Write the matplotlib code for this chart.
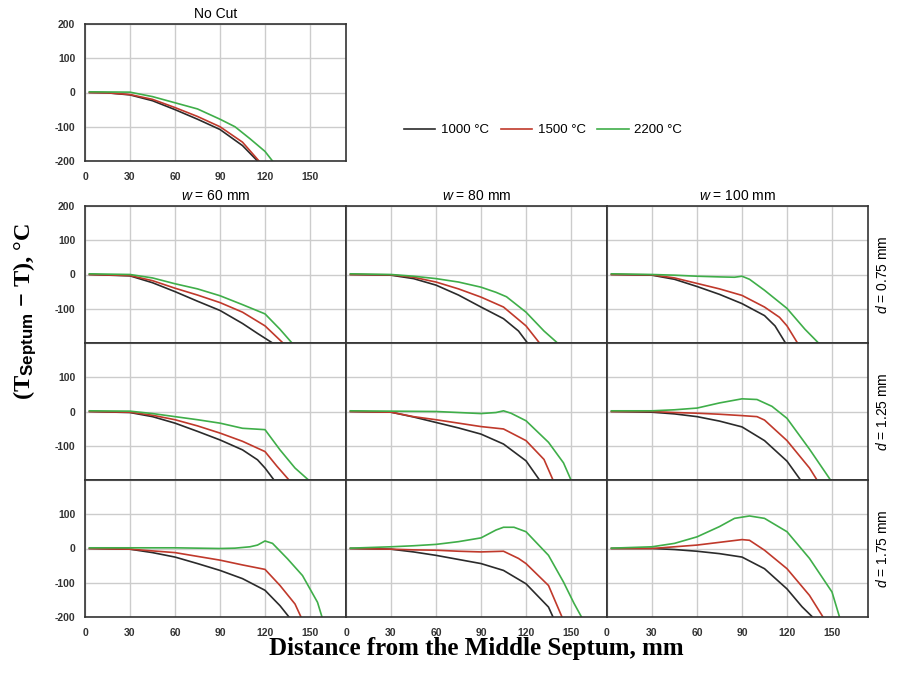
import matplotlib
matplotlib.use("Agg")
import matplotlib.pyplot as plt

plt.rcParams["font.family"] = ["Liberation Sans", "DejaVu Sans"]
plt.rcParams["axes.unicode_minus"] = False
plt.rcParams["mathtext.fontset"] = "custom"
plt.rcParams["mathtext.rm"] = "Liberation Serif:bold"
plt.rcParams["mathtext.bf"] = "Liberation Sans:bold"
plt.rcParams["mathtext.it"] = "Liberation Sans:italic"

# labels
widths = ["60", "80", "100"]
depths = ["0.75", "1.25", "1.75"]
temps = ["1000 °C", "1500 °C", "2200 °C"]
colors = ["#2b2b2b", "#c0392b", "#3fae49"]
x_ticks = [0, 30, 60, 90, 120, 150]
y_ticks = [-200, -100, 0, 100, 200]

# (distance mm, T_septum - T)
nocut_1000 = [(3, 0), (15, -1), (30, -7), (45, -24), (60, -50), (75, -78), (90, -108), (105, -155), (115, -200)]
nocut_1500 = [(3, 0), (15, -1), (30, -6), (45, -20), (60, -44), (75, -70), (90, -100), (105, -145), (116, -200)]
nocut_2200 = [(3, 2), (30, 1), (45, -12), (60, -30), (75, -48), (90, -78), (100, -100), (110, -135), (120, -172), (125, -200)]

w60_d075_1000 = [(3, 0), (30, -4), (45, -24), (60, -50), (75, -78), (90, -105), (105, -143), (115, -172), (125, -200)]
w60_d075_1500 = [(3, 0), (30, -3), (45, -18), (60, -40), (75, -60), (90, -82), (105, -110), (120, -150), (132, -200)]
w60_d075_2200 = [(3, 2), (30, 0), (45, -10), (60, -27), (75, -42), (90, -62), (105, -88), (120, -115), (130, -160), (138, -200)]

w80_d075_1000 = [(3, 0), (30, -2), (45, -12), (60, -31), (75, -60), (90, -95), (105, -129), (115, -165), (121, -200)]
w80_d075_1500 = [(3, 0), (30, -1), (45, -8), (60, -22), (75, -42), (90, -66), (105, -95), (120, -150), (129, -200)]
w80_d075_2200 = [(3, 2), (30, 0), (45, -5), (60, -12), (75, -22), (90, -37), (100, -52), (107, -65), (120, -110), (132, -165), (141, -200)]

w100_d075_1000 = [(3, 0), (30, -2), (45, -14), (60, -35), (75, -58), (90, -85), (105, -120), (112, -150), (119, -200)]
w100_d075_1500 = [(3, 0), (30, -1), (45, -10), (60, -26), (75, -42), (90, -61), (105, -95), (115, -125), (120, -150), (127, -200)]
w100_d075_2200 = [(3, 2), (30, 0), (45, -2), (60, -5), (75, -7), (85, -8), (90, -5), (95, -14), (105, -46), (120, -99), (132, -160), (141, -200)]

w60_d125_1000 = [(3, 0), (30, -3), (45, -15), (60, -34), (75, -58), (90, -83), (105, -112), (115, -141), (120, -165), (126, -200)]
w60_d125_1500 = [(3, 0), (30, -2), (45, -11), (60, -24), (75, -42), (90, -63), (105, -87), (120, -117), (128, -160), (136, -200)]
w60_d125_2200 = [(3, 2), (30, 1), (45, -6), (60, -15), (75, -24), (90, -34), (105, -49), (120, -53), (130, -112), (140, -165), (149, -200)]

w80_d125_1000 = [(3, 0), (30, -2), (45, -16), (60, -32), (75, -48), (90, -66), (105, -95), (120, -144), (129, -200)]
w80_d125_1500 = [(3, 0), (30, -2), (45, -15), (60, -24), (75, -34), (90, -44), (105, -51), (120, -85), (132, -140), (138, -200)]
w80_d125_2200 = [(3, 2), (30, 1), (60, 0), (75, -3), (90, -6), (100, -3), (105, 2), (110, -5), (120, -27), (135, -90), (145, -150), (150, -200)]

w100_d125_1000 = [(3, 0), (30, -2), (45, -7), (60, -15), (75, -28), (90, -45), (105, -85), (120, -145), (129, -200)]
w100_d125_1500 = [(3, 0), (30, 0), (45, -3), (60, -5), (75, -8), (90, -12), (100, -15), (105, -25), (120, -85), (135, -165), (140, -200)]
w100_d125_2200 = [(3, 2), (30, 2), (45, 5), (60, 10), (75, 25), (90, 37), (100, 35), (110, 15), (120, -20), (135, -110), (149, -200)]

w60_d175_1000 = [(3, 0), (30, -2), (45, -12), (60, -25), (75, -44), (90, -64), (105, -88), (120, -122), (130, -167), (136, -200)]
w60_d175_1500 = [(3, 0), (30, -2), (45, -7), (60, -12), (75, -23), (90, -34), (105, -48), (120, -61), (130, -108), (140, -162), (144, -200)]
w60_d175_2200 = [(3, 2), (30, 2), (60, 2), (75, 1), (90, 0), (100, 1), (110, 5), (115, 10), (120, 22), (125, 15), (135, -30), (145, -79), (155, -157), (158, -200)]

w80_d175_1000 = [(3, 0), (30, -2), (45, -10), (60, -20), (75, -32), (90, -44), (105, -64), (120, -103), (135, -171), (138, -200)]
w80_d175_1500 = [(3, 0), (30, -2), (45, -4), (60, -5), (75, -8), (90, -10), (105, -8), (115, -29), (120, -44), (135, -108), (144, -200)]
w80_d175_2200 = [(3, 1), (30, 5), (45, 8), (60, 12), (75, 20), (90, 31), (100, 54), (105, 62), (112, 62), (120, 49), (135, -20), (145, -98), (152, -160), (157, -200)]

w100_d175_1000 = [(3, 0), (30, 0), (45, -3), (60, -8), (75, -15), (90, -25), (105, -59), (120, -118), (130, -170), (137, -200)]
w100_d175_1500 = [(3, 0), (30, 0), (45, 5), (60, 10), (75, 18), (90, 26), (95, 24), (105, -5), (120, -59), (135, -137), (144, -200)]
w100_d175_2200 = [(3, 1), (30, 5), (45, 15), (60, 34), (75, 64), (85, 88), (95, 95), (105, 88), (120, 49), (135, -29), (150, -127), (155, -200)]

grid_curves = [
    [[w60_d075_1000, w60_d075_1500, w60_d075_2200],
     [w80_d075_1000, w80_d075_1500, w80_d075_2200],
     [w100_d075_1000, w100_d075_1500, w100_d075_2200]],
    [[w60_d125_1000, w60_d125_1500, w60_d125_2200],
     [w80_d125_1000, w80_d125_1500, w80_d125_2200],
     [w100_d125_1000, w100_d125_1500, w100_d125_2200]],
    [[w60_d175_1000, w60_d175_1500, w60_d175_2200],
     [w80_d175_1000, w80_d175_1500, w80_d175_2200],
     [w100_d175_1000, w100_d175_1500, w100_d175_2200]],
]

W, H = 897, 675
fig = plt.figure(figsize=(W / 100, H / 100), dpi=100)


def px_axes(left, top, w, h):
    return fig.add_axes([left / W, 1 - (top + h) / H, w / W, h / H])


def style(ax, xlab, ylab):
    ax.set_xlim(0, 174)
    ax.set_ylim(-200, 200)
    ax.set_xticks(x_ticks)
    ax.set_yticks(y_ticks)
    ax.grid(True, color="#cccccc", lw=1.0)
    ax.set_axisbelow(True)
    ax.tick_params(length=0, labelsize=7.5, colors="#333333", pad=7)
    ax.tick_params(axis="x", pad=8)
    if xlab:
        ax.set_xticklabels([str(v) for v in x_ticks], fontweight="bold")
    else:
        ax.set_xticklabels([])
    if ylab is None:
        ax.set_yticklabels([])
    else:
        ax.set_yticklabels(ylab, fontweight="bold")
    for s in ax.spines.values():
        s.set_color("#333333")
        s.set_linewidth(1.2)


def draw(ax, curves):
    for pts, c, lab in zip(curves, colors, temps):
        ax.plot([p[0] for p in pts], [p[1] for p in pts], color=c, lw=1.2, label=lab)


# No Cut panel
ax0 = px_axes(85, 24, 261, 137)
draw(ax0, [nocut_1000, nocut_1500, nocut_2200])
style(ax0, True, ["-200", "-100", "0", "100", "200"])
ax0.set_title("No Cut", fontsize=10, pad=4)

row_ylabels = [
    ["", "-100", "0", "100", "200"],
    ["", "-100", "0", "100", ""],
    ["-200", "-100", "0", "100", ""],
]

for i in range(3):
    for j in range(3):
        ax = px_axes(85 + 261 * j, 206 + 137 * i, 261, 137)
        draw(ax, grid_curves[i][j])
        style(ax, i == 2, row_ylabels[i] if j == 0 else None)
        if i == 0:
            ax.set_title(r"$\it{w}$ = " + widths[j] + " mm", fontsize=10, pad=4)
        if j == 2:
            ax.text(1.055, 0.5, r"$\it{d}$ = " + depths[i] + " mm", transform=ax.transAxes,
                    rotation=90, va="center", ha="center", fontsize=10)

handles, labels = ax0.get_legend_handles_labels()
fig.legend(handles, labels, loc="center", bbox_to_anchor=(543 / W, 1 - 130 / H), ncol=3,
           frameon=False, fontsize=9.5, handlelength=2.4, columnspacing=0.9, handletextpad=0.4)

fig.text(25 / W, 1 - 312 / H, r"(T$_{\mathbf{Septum}}$ $-$ T), °C", rotation=90,
         ha="center", va="center", fontsize=17.5, family="Liberation Serif", fontweight="bold")
fig.text(476 / W, 1 - 648 / H, "Distance from the Middle Septum, mm", ha="center", va="center",
         fontsize=18, family="Liberation Serif", fontweight="bold")

fig.savefig("out.png", dpi=100)
